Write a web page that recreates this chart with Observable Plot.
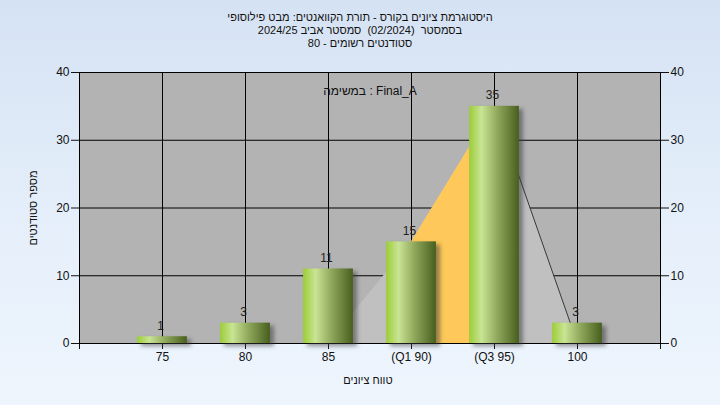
<!DOCTYPE html>
<html>
<head>
<meta charset="utf-8">
<script src="https://cdn.jsdelivr.net/npm/d3@7"></script>
<script src="https://cdn.jsdelivr.net/npm/@observablehq/plot@0.6"></script>
<style>
  html, body { margin: 0; padding: 0; }
  body { width: 720px; height: 405px; overflow: hidden;
    background: linear-gradient(to bottom, #d5e2f3 0%, #e4eefa 50%, #eef5fd 100%);
    font-family: "Liberation Sans", Arial, sans-serif; position: relative; }
  #title { position: absolute; top: 11px; left: 0; width: 720px; text-align: center;
    direction: rtl; font-size: 11px; line-height: 13px; color: #111; white-space: pre; }
  #chart { position: absolute; top: 55px; left: 0; }
  #ylab { position: absolute; left: 33px; top: 208px; transform: translate(-50%, -50%) rotate(-90deg);
    font-size: 11px; color: #111; white-space: nowrap; direction: rtl; }
  #xlab { position: absolute; left: 368px; top: 380px; transform: translate(-50%, -50%);
    font-size: 11px; color: #111; white-space: nowrap; direction: rtl; }
</style>
</head>
<body>
<div id="title"></div>
<div id="chart"></div>
<div id="ylab"></div>
<div id="xlab"></div>
<script>
// ---- data ----
const titleLines = [
  "היסטוגרמת ציונים בקורס - תורת הקוואנטים: מבט פילוסופי",
  "בסמסטר  (02/2024)  סמסטר אביב 2024/25",
  "סטודנטים רשומים - 80"
];
const taskLabel = "במשימה : Final_A";
const yAxisLabel = "מספר סטודנטים";
const xAxisLabel = "טווח ציונים";

const grades = [75, 80, 85, 90, 95, 100];
const counts = [1, 3, 11, 15, 35, 3];

const areaGrades = [75, 80, 85, 90, 95, 100];
const areaValues = [0, 0, 0, 15, 35, 0];
const q1 = 90, q3 = 95;

const xTicks = [70, 75, 80, 85, 90, 95, 100, 105];
const xTickLabels = ["", "75", "80", "85", "(Q1 90)", "(Q3 95)", "100", ""];
const yTicks = [0, 10, 20, 30, 40];

// ---- tables ----
const bars = grades.map((g, i) => ({grade: g, count: counts[i]}));
const area = areaGrades.map((g, i) => ({grade: g, value: areaValues[i]}));
const iqr = area.filter(d => d.grade >= q1 && d.grade <= q3);
const tail = area.filter(d => d.grade >= q3);

const titleEl = document.getElementById("title");
titleLines.forEach(t => { const d = document.createElement("div"); d.textContent = t; titleEl.appendChild(d); });
document.getElementById("ylab").textContent = yAxisLabel;
document.getElementById("xlab").textContent = xAxisLabel;

const halfW = 1.5;
const tickLabelMap = new Map(xTicks.map((t, i) => [t, xTickLabels[i]]));

const plot = Plot.plot({
  width: 720,
  height: 350,
  marginTop: 17,
  marginBottom: 62,
  marginLeft: 79,
  marginRight: 60,
  style: {background: "transparent", fontFamily: "'Liberation Sans', Arial, sans-serif", fontSize: "12px", color: "#111"},
  x: {domain: [70, 105], ticks: xTicks, tickFormat: d => tickLabelMap.get(d) ?? "", tickSize: 6, tickPadding: 3, label: null},
  y: {domain: [0, 40], ticks: yTicks, axis: "both", tickSize: 8, tickPadding: 2, label: null},
  marks: [
    Plot.frame({fill: "#b3b3b3", stroke: null}),
    Plot.ruleX(grades, {stroke: "#000", strokeWidth: 1}),
    Plot.ruleY(yTicks, {stroke: "#000", strokeWidth: 1}),
    Plot.areaY(area, {x: "grade", y: "value", fill: "#c0c0c0"}),
    Plot.areaY(iqr, {x: "grade", y: "value", fill: "#fec95a"}),
    Plot.line(tail, {x: "grade", y: "value", stroke: "#3a3a3a", strokeWidth: 1}),
    Plot.frame({stroke: "#000", strokeWidth: 1}),
    Plot.rectY(bars, {x1: d => d.grade - halfW, x2: d => d.grade + halfW, y: "count", fill: "#3c3c3c", fillOpacity: 0.55, dx: 4, dy: 3}),
    Plot.rectY(bars, {x1: d => d.grade - halfW, x2: d => d.grade + halfW, y: "count", fill: "url(#barGrad)"}),
    Plot.text(bars, {x: "grade", y: "count", text: d => String(d.count), dy: -11, dx: -2, fill: "#222", fontSize: 12}),
    Plot.text([taskLabel], {frameAnchor: "top", dy: 14, text: d => d, fill: "#111", fontSize: 12})
  ]
});

const svg = d3.select(plot);
const defs = svg.insert("defs", ":first-child");
const grad = defs.append("linearGradient").attr("id", "barGrad").attr("x1", "0").attr("x2", "1").attr("y1", "0").attr("y2", "0");
[["0", "#9ccd38"], ["0.25", "#c9e494"], ["0.55", "#93ab5e"], ["1", "#475f1e"]]
  .forEach(([o, c]) => grad.append("stop").attr("offset", o).attr("stop-color", c));
defs.append("filter").attr("id", "blur").attr("x", "-20%").attr("y", "-20%").attr("width", "140%").attr("height", "140%")
  .append("feGaussianBlur").attr("stdDeviation", 2);
svg.selectAll('g[fill="#3c3c3c"]').attr("filter", "url(#blur)");

document.getElementById("chart").appendChild(plot);
</script>
</body>
</html>
